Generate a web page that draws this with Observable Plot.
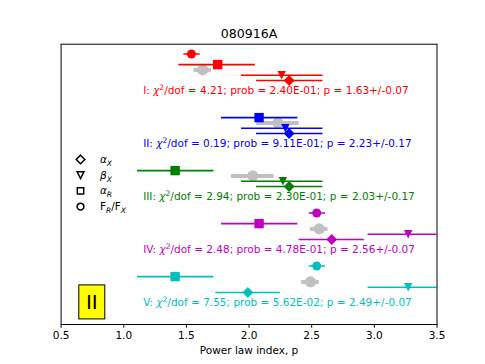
<!DOCTYPE html>
<html><head><meta charset="utf-8">
<script src="https://cdn.jsdelivr.net/npm/d3@7"></script>
<script src="https://cdn.jsdelivr.net/npm/@observablehq/plot@0.6"></script>
<style>html,body{margin:0;padding:0;background:#fff;} svg{display:block}</style>
</head><body><div id="chart"></div>
<script>
// ---- data ----
const groups = ["I", "II", "III", "IV", "V"];
const colors = ["#ff0000", "#0000ff", "#008000", "#bf00bf", "#00bfbf"];
const chi2dof = ["4.21", "0.19", "2.94", "2.48", "7.55"];
const prob = ["2.40E-01", "9.11E-01", "2.30E-01", "4.78E-01", "5.62E-02"];
const pFit = [1.63, 2.23, 2.03, 2.56, 2.49];
const pErr = [0.07, 0.17, 0.17, 0.07, 0.07];
// F_R/F_X (circles)
const frfx = [1.54, null, null, 2.54, 2.54];
const frfxLo = [1.48, null, null, 2.48, 2.48];
const frfxHi = [1.61, null, null, 2.61, 2.61];
// alpha_R (squares)
const alphaR = [1.75, 2.08, 1.41, 2.08, 1.41];
const alphaRLo = [1.44, 1.78, 1.11, 1.78, 1.11];
const alphaRHi = [2.05, 2.39, 1.72, 2.39, 1.72];
// beta_X (down triangles)
const betaX = [2.26, 2.29, 2.27, 3.27, 3.27];
const betaXLo = [1.94, 1.94, 1.94, 2.95, 2.95];
const betaXHi = [2.59, 2.59, 2.59, 3.59, 3.59];
// alpha_X (diamonds)
const alphaX = [2.32, 2.32, 2.32, 2.66, 1.99];
const alphaXLo = [2.06, 2.06, 2.06, 2.40, 1.735];
const alphaXHi = [2.59, 2.59, 2.59, 2.92, 2.25];
const xTicks = [0.5, 1.0, 1.5, 2.0, 2.5, 3.0, 3.5];
const legendLabels = ["αX", "βX", "αR", "FR/FX"];
const title = "080916A";
const xLabel = "Power law index, p";
const panelLabel = "II";

// ---- layout ----
const rowOffset = {circle: 0.3, square: 0.5, p: 0.6, tri: 0.7, diamond: 0.8, text: 1.0};
function rows(kind, vals, lo, hi) {
  return groups.map((g, i) => ({g, color: colors[i], x: vals[i], lo: lo[i], hi: hi[i], y: i + rowOffset[kind]}))
    .filter(d => d.x != null);
}
const circleRows = rows("circle", frfx, frfxLo, frfxHi);
const squareRows = rows("square", alphaR, alphaRLo, alphaRHi);
const triRows = rows("tri", betaX, betaXLo, betaXHi);
const diamondRows = rows("diamond", alphaX, alphaXLo, alphaXHi);
const pRows = rows("p", pFit, pFit.map((v, i) => v - pErr[i]), pFit.map((v, i) => v + pErr[i]));
const textX = 1.155;
const textRows = groups.map((g, i) => ({
  x: textX, y: i + rowOffset.text, color: colors[i],
  label: `${g}: χ²/dof = ${chi2dof[i]}; prob = ${prob[i]}; p = ${pFit[i].toFixed(2)}+/-${pErr[i].toFixed(2)}`
}));

// custom symbols (r = half size)
const mk = f => ({draw(ctx, size) { f(ctx, Math.sqrt(size / Math.PI)); }});
const symDiamond = mk((c, r) => { c.moveTo(0, -r); c.lineTo(r, 0); c.lineTo(0, r); c.lineTo(-r, 0); c.closePath(); });
const symTri = mk((c, r) => { c.moveTo(-r, -r); c.lineTo(r, -r); c.lineTo(0, r); c.closePath(); });
const symSquare = mk((c, r) => { c.moveTo(-r, -r); c.lineTo(r, -r); c.lineTo(r, r); c.lineTo(-r, r); c.closePath(); });
const symCircle = mk((c, r) => { c.moveTo(r, 0); c.arc(0, 0, r, 0, 2 * Math.PI); c.closePath(); });

const yTop = 0.115, yBottom = 5.404;
const legendY0 = 2.29, legendStep = 0.296, legendX = 0.655, legendTextX = 0.81;
const legendSyms = [[symDiamond, 4.3], [symTri, 3.4], [symSquare, 3.2], [symCircle, 3.4]];

const series = [
  [circleRows, symCircle, 4.5],
  [squareRows, symSquare, 4.7],
  [triRows, symTri, 4.2],
  [diamondRows, symDiamond, 5.4]
];

const marks = [
  Plot.ruleY(pRows, {y: "y", x1: "lo", x2: "hi", stroke: "#c0c0c0", strokeWidth: 4}),
  Plot.dot(pRows, {x: "x", y: "y", r: 5.6, fill: "#c0c0c0", symbol: symCircle})
];
for (const [data, sym, r] of series) {
  marks.push(Plot.ruleY(data, {y: "y", x1: "lo", x2: "hi", stroke: "color", strokeWidth: 1.6, clip: true}));
  marks.push(Plot.dot(data, {x: "x", y: "y", r, fill: "color", symbol: sym}));
}
marks.push(Plot.text(textRows, {x: "x", y: "y", text: "label", fill: "color", textAnchor: "start", fontSize: 10.5}));
legendLabels.forEach((lab, i) => {
  const [sym, r] = legendSyms[i];
  marks.push(Plot.dot([lab], {x: () => legendX, y: () => legendY0 + i * legendStep, r, symbol: sym, fill: "white", stroke: "black", strokeWidth: 1.5}));
  marks.push(Plot.text([lab], {x: () => legendTextX, y: () => legendY0 + i * legendStep, text: d => d, textAnchor: "start", fill: "black", fontSize: 10.5}));
});
marks.push(Plot.text([panelLabel], {frameAnchor: "bottom-left", dx: 30.7, dy: -22, text: d => d, textAnchor: "middle", lineAnchor: "middle", fontSize: 20, fill: "black"}));
marks.push(Plot.text([title], {frameAnchor: "top", dy: -10.5, text: d => d, lineAnchor: "middle", fontSize: 12.6, fill: "black"}));
marks.push(Plot.text([xLabel], {frameAnchor: "bottom", dy: 26.5, text: d => d, lineAnchor: "middle", fontSize: 10.5, fill: "black"}));
marks.push(Plot.axisX({ticks: xTicks, tickFormat: d3.format(".1f"), tickSize: 3.7, tickPadding: 3, label: null, stroke: "black", fill: "black"}));
marks.push(Plot.frame({stroke: "black", strokeWidth: 1}));

const plot = Plot.plot({
  width: 485, height: 364,
  marginLeft: 60.6, marginRight: 48.5, marginTop: 43.7, marginBottom: 40,
  x: {domain: [0.5, 3.5]},
  y: {domain: [yTop, yBottom], reverse: true, axis: null},
  color: {type: "identity"},
  style: {fontFamily: "DejaVu Sans", fontSize: "10.5px", color: "black", background: "white"},
  marks
});
document.getElementById("chart").appendChild(plot);

// ---- rich text post-processing (italics / sub- and superscripts) ----
const svg = d3.select(plot);
function rebuild(textEl, segs) {
  const t = d3.select(textEl);
  t.text(null);
  let shift = 0;
  for (const s of segs) {
    const target = s.sub ? 3 : s.sup ? -4 : 0;
    const ts = t.append("tspan").text(s.t);
    if (target !== shift) { ts.attr("dy", target - shift); shift = target; }
    if (s.it) ts.attr("font-style", "italic");
    if (s.sub || s.sup) ts.attr("font-size", "7.5px");
  }
}
const legendSegs = {
  "αX": [{t: "α", it: true}, {t: "X", it: true, sub: true}],
  "βX": [{t: "β", it: true}, {t: "X", it: true, sub: true}],
  "αR": [{t: "α", it: true}, {t: "R", it: true, sub: true}],
  "FR/FX": [{t: "F"}, {t: "R", it: true, sub: true}, {t: "/F"}, {t: "X", it: true, sub: true}]
};
svg.selectAll("text").each(function() {
  const s = this.textContent;
  if (legendSegs[s]) { rebuild(this, legendSegs[s]); return; }
  const k = s.indexOf("χ²");
  if (k >= 0) {
    rebuild(this, [{t: s.slice(0, k)}, {t: "χ", it: true}, {t: "2", sup: true}, {t: s.slice(k + 2)}]);
  }
  if (s === panelLabel) {
    const bb = this.getBBox();
    const cx = bb.x + bb.width / 2, cy = bb.y + bb.height / 2;
    const rect = document.createElementNS("http://www.w3.org/2000/svg", "rect");
    rect.setAttribute("x", cx - 13); rect.setAttribute("y", cy - 17);
    rect.setAttribute("width", 26); rect.setAttribute("height", 34);
    rect.setAttribute("fill", "yellow"); rect.setAttribute("stroke", "black"); rect.setAttribute("stroke-width", 1);
    const tr = this.getAttribute("transform");
    if (tr) rect.setAttribute("transform", tr);
    this.parentNode.insertBefore(rect, this);
  }
});
</script></body></html>
